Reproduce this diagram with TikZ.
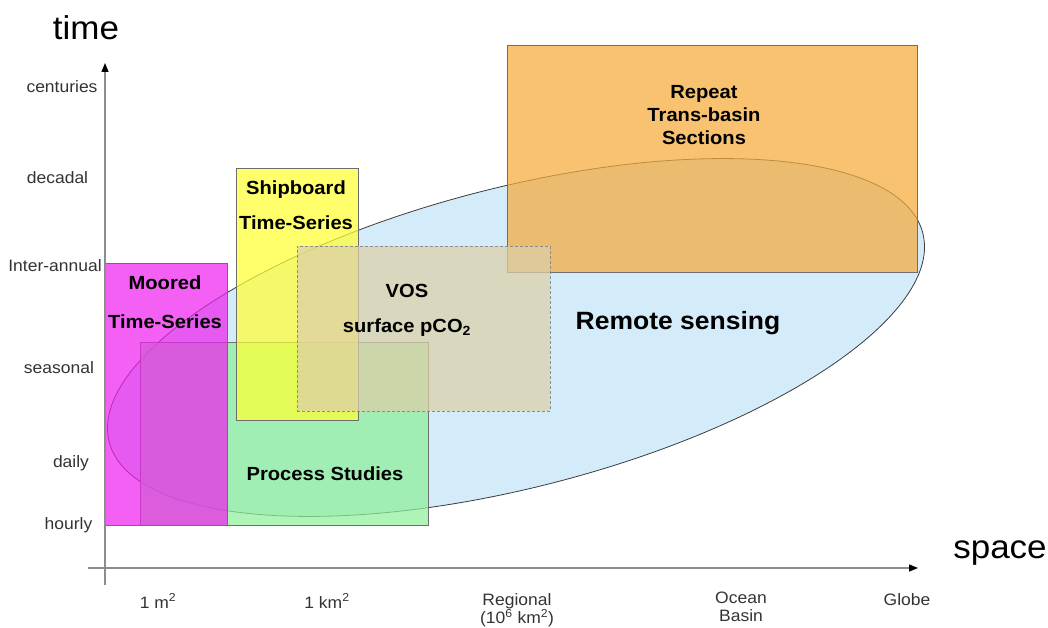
\documentclass[tikz,border=0pt]{standalone}
\usepackage{fontspec}
\setmainfont{Liberation Sans}[FakeStretch=1.06]
\usetikzlibrary{arrows.meta,shapes.geometric}
\definecolor{skyblue}{HTML}{D4ECFA}
\definecolor{mag}{HTML}{EE22EE}
\definecolor{yel}{HTML}{FFFF33}
\definecolor{grn}{HTML}{8EF09A}
\definecolor{org}{HTML}{F5AA3A}
\definecolor{vos}{HTML}{DCCFA8}
\definecolor{boxline}{HTML}{6E6E6E}
\definecolor{axisgray}{HTML}{8C8C8C}
\definecolor{tickgray}{HTML}{333333}
\definecolor{ellline}{HTML}{3C3C3C}
\begin{document}
\begin{tikzpicture}[x=1pt,y=-1pt,
  box/.style={draw=boxline, line width=0.9pt, fill opacity=0.72, inner sep=0pt, outer sep=0pt, anchor=north west},
  tick/.style={text=tickgray, font=\fontsize{16.5}{18}\selectfont, inner sep=0pt, align=center},
  lab/.style={font=\fontsize{19}{#1}\bfseries\selectfont, align=center, inner sep=0pt},
  axis/.style={draw=axisgray, line width=1.4pt, -{Triangle[length=9pt,width=7pt,color=black]}},
  big/.style={font=\fontsize{33}{33}\selectfont, inner sep=0pt}
]
\useasboundingbox (0,0) rectangle (1048,628);

% remote sensing ellipse
\node[ellipse, draw=ellline, line width=0.8pt, fill=skyblue, minimum width=840pt, minimum height=300pt,
      rotate=14.4, inner sep=0pt] (rs) at (516,337.5) {};

% boxes
\node[box, fill=grn, minimum width=288pt, minimum height=183pt] (proc) at (140,342) {};
\node[box, fill=mag, minimum width=122pt, minimum height=262pt] (moor) at (105,263) {};
\node[box, fill=yel, minimum width=122pt, minimum height=252pt] (ship) at (236,168) {};
\node[box, fill=org, minimum width=410pt, minimum height=227pt] (rep) at (507,45) {};
\node[box, fill=vos, draw=axisgray, dash pattern=on 3pt off 2pt, minimum width=253pt, minimum height=165pt] (vosb) at (297,246) {};

% labels
\node[lab=39] (moorlab) at (165,302) {Moored\\Time-Series};
\node[lab=35] (shiplab) at (296,205) {Shipboard\\Time-Series};
\node[lab=35] (voslab) at (407,310) {VOS\\surface pCO\textsubscript{2}};
\node[lab=23] (replab) at (704,115) {Repeat\\Trans-basin\\Sections};
\node[lab=20] (proclab) at (325,474) {Process Studies};
\node[font=\fontsize{25}{25}\bfseries\selectfont, inner sep=0pt] (rslab) at (678,323) {Remote sensing};

% axes
\coordinate (yb) at (105,585);
\coordinate (yt) at (105,63);
\coordinate (xl) at (88,568);
\coordinate (xr) at (918,568);
\draw[axis] (yb) -- (yt);
\draw[axis] (xl) -- (xr);
\node[big] (tlab) at (86,28) {time};
\node[big] (slab) at (1000,553) {space};

% time ticks
\node[tick] (t1) at (62,87) {centuries};
\node[tick] (t2) at (57.5,178) {decadal};
\node[tick] (t3) at (55,266) {Inter-annual};
\node[tick] (t4) at (59,368) {seasonal};
\node[tick] (t5) at (71,463) {daily};
\node[tick] (t6) at (68.5,525) {hourly};

% space ticks
\node[tick] (s1) at (158,601) {1 m\textsuperscript{2}};
\node[tick] (s2) at (327,601) {1 km\textsuperscript{2}};
\node[tick] (s3) at (517,610) {Regional\\(10\textsuperscript{6} km\textsuperscript{2})};
\node[tick] (s4) at (741,607) {Ocean\\Basin};
\node[tick] (s5) at (907,600) {Globe};
\end{tikzpicture}
\end{document}
